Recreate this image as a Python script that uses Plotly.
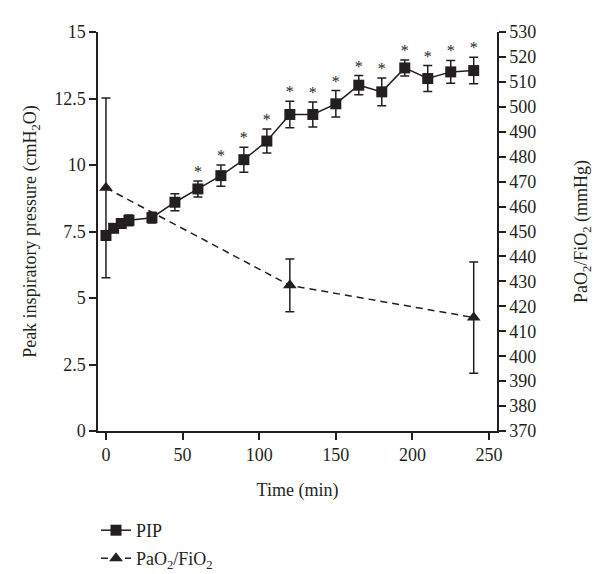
import plotly.graph_objects as go

# PIP data (left axis)
time_pip = [0, 5, 10, 15, 30, 45, 60, 75, 90, 105, 120, 135, 150, 165, 180, 195, 210, 225, 240]
pip_mean = [7.35, 7.62, 7.8, 7.92, 8.02, 8.6, 9.1, 9.6, 10.2, 10.9, 11.9, 11.9, 12.3, 13.0, 12.75, 13.65, 13.25, 13.5, 13.55]
pip_err = [0.15, 0.15, 0.15, 0.2, 0.2, 0.32, 0.3, 0.4, 0.47, 0.45, 0.5, 0.47, 0.5, 0.36, 0.52, 0.3, 0.49, 0.43, 0.5]
pip_sig = [0, 0, 0, 0, 0, 0, 1, 1, 1, 1, 1, 1, 1, 1, 1, 1, 1, 1, 1]

# PaO2/FiO2 data (right axis)
time_pf = [0, 120, 240]
pf_mean = [467.5, 428.4, 415.5]
pf_err = [36.0, 10.6, 22.3]

x_ticks = [0, 50, 100, 150, 200, 250]

ink = "#231f20"
font_family = "Liberation Serif"
fs = 18

fig = go.Figure()

fig.add_trace(go.Scatter(
    x=time_pip, y=pip_mean, mode="lines+markers", name="PIP",
    line=dict(color=ink, width=1.5),
    marker=dict(symbol="square", size=11, color=ink),
    error_y=dict(type="data", array=pip_err, visible=True, color=ink, thickness=1.5, width=4.5),
    legend="legend",
))

fig.add_trace(go.Scatter(
    x=time_pf, y=pf_mean, mode="lines+markers", name="PaO<sub>2</sub>/FiO<sub>2</sub>",
    line=dict(color=ink, width=1.5, dash="7px,5px"),
    marker=dict(symbol="triangle-up", size=12, color=ink),
    error_y=dict(type="data", array=pf_err, visible=True, color=ink, thickness=1.5, width=4.5),
    yaxis="y2",
    legend="legend2",
))

# asterisks above significant points
star_x = [t for t, s in zip(time_pip, pip_sig) if s]
star_y = [m + e for m, e, s in zip(pip_mean, pip_err, pip_sig) if s]
fig.add_trace(go.Scatter(
    x=star_x, y=star_y, mode="text", text=["*"] * len(star_x),
    textposition="top center", textfont=dict(size=16, color=ink, family=font_family),
    showlegend=False, hoverinfo="skip",
))

axis_common = dict(
    showline=True, linecolor=ink, linewidth=1.5,
    ticks="outside", ticklen=7, tickwidth=1.5, tickcolor=ink,
    showgrid=False, zeroline=False, automargin=False,
    tickfont=dict(size=fs, color=ink, family=font_family),
)

fig.update_layout(
    width=600, height=574,
    margin=dict(l=98, r=103, t=32, b=143, autoexpand=False),
    paper_bgcolor="white", plot_bgcolor="white",
    font=dict(family=font_family, color=ink, size=fs),
    xaxis=dict(range=[-5.2, 255.2], tickvals=x_ticks,
               title=dict(text="Time (min)", font=dict(size=fs), standoff=19),
               **axis_common),
    yaxis=dict(range=[0, 15], dtick=2.5,
               title=dict(text="Peak inspiratory pressure (cmH<sub>2</sub>O)", font=dict(size=fs), standoff=13),
               **axis_common),
    yaxis2=dict(range=[370, 530], dtick=10, overlaying="y", side="right",
                title=dict(text="PaO<sub>2</sub>/FiO<sub>2</sub> (mmHg)", font=dict(size=fs), standoff=39),
                **axis_common),
    legend=dict(x=-0.005, y=-0.203, xanchor="left", yanchor="top",
                font=dict(size=fs), bgcolor="rgba(0,0,0,0)", itemwidth=30),
    legend2=dict(x=-0.005, y=-0.273, xanchor="left", yanchor="top",
                 font=dict(size=fs), bgcolor="rgba(0,0,0,0)", itemwidth=30),
    showlegend=True,
)

fig.write_html("out.html", config={"displayModeBar": False},
               post_script="document.body.style.margin='0px';")
